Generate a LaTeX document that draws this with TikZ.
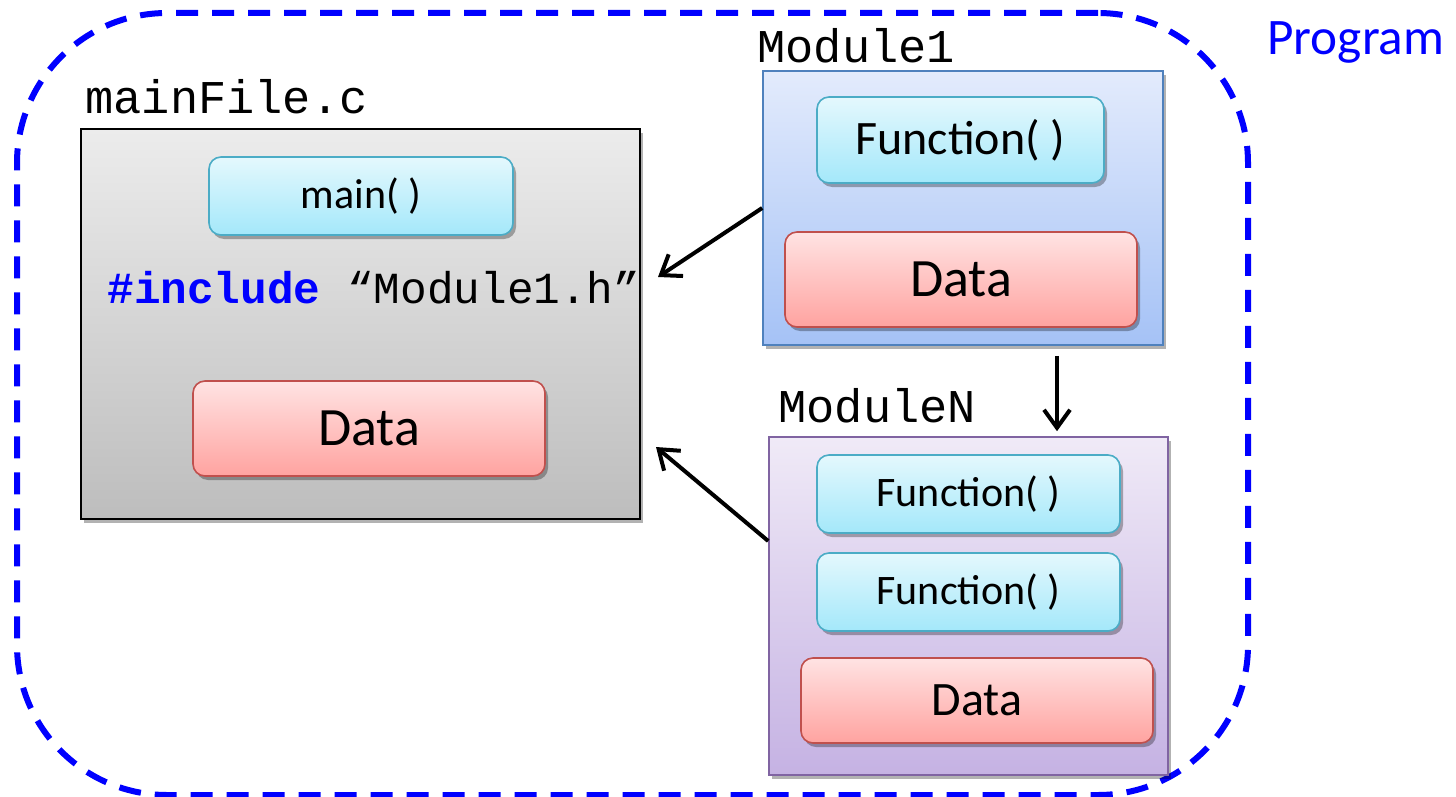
\documentclass[tikz,border=0pt]{standalone}
\usepackage{fontspec}
\setmainfont{Carlito}
\setmonofont{Liberation Mono}
\usepackage{tikz}
\usetikzlibrary{arrows.meta,positioning,shadows}
\definecolor{prog}{HTML}{0000FF}
\definecolor{ink}{HTML}{000000}
\definecolor{filetop}{HTML}{ECECEC}
\definecolor{filebot}{HTML}{BDBDBD}
\definecolor{fntop}{HTML}{E4F8FD}
\definecolor{fnbot}{HTML}{A4E8FA}
\definecolor{fnline}{HTML}{4BACC6}
\definecolor{datatop}{HTML}{FFE3E3}
\definecolor{databot}{HTML}{FFA3A0}
\definecolor{dataline}{HTML}{C0504D}
\definecolor{modtop}{HTML}{E3EBFC}
\definecolor{modbot}{HTML}{A5C2F6}
\definecolor{modline}{HTML}{4F81BD}
\definecolor{modNtop}{HTML}{F0EAF7}
\definecolor{modNbot}{HTML}{C5B2E3}
\definecolor{modNline}{HTML}{8064A2}
\tikzset{
  >={Straight Barb[length=9pt,width=13pt]},
  every node/.style={text=ink},
  shade/.style={drop shadow={shadow xshift=1.5pt,shadow yshift=-2pt,opacity=.3,fill=black}},
  filebox/.style={draw=ink,line width=1pt,top color=filetop,bottom color=filebot,shade},
  modbox/.style={draw=modline,line width=0.8pt,top color=modtop,bottom color=modbot,shade},
  modNbox/.style={modbox,draw=modNline,top color=modNtop,bottom color=modNbot},
  fnbox/.style={draw=fnline,line width=0.8pt,rounded corners=6pt,top color=fntop,bottom color=fnbot,shade},
  databox/.style={draw=dataline,line width=0.8pt,rounded corners=6pt,top color=datatop,bottom color=databot,shade},
  progframe/.style={draw=prog,line width=3pt,rounded corners=75pt,dash pattern=on 11pt off 7pt},
  filename/.style={anchor=base west,inner sep=0pt,font=\ttfamily\fontsize{23.5}{28}\selectfont},
  arrow/.style={->,line width=2pt,draw=ink},
}
\newcommand{\code}[1]{\texttt{#1}}

\begin{document}
\begin{tikzpicture}[x=0.5pt,y=-0.5pt]
\useasboundingbox (0,0) rectangle (1456,797);

% --- program frame
\node[progframe,minimum width=615.5pt,minimum height=391pt] (prog) at (632.5,404) {};
\node[anchor=base west,inner sep=0pt,text=prog,font=\fontsize{25.6}{30}\selectfont] (progname) at (1267,55) {Program};

% --- left: main file
\node[filebox,minimum width=279.5pt,minimum height=195pt] (main) at (360.5,324) {};
\node[filename] (mainname) at (85,113) {mainFile.c};
\node[fnbox,minimum width=152pt,minimum height=39pt,font=\fontsize{21}{24}\selectfont] (mainfn) at (361,196) {main( )};
\node[anchor=base west,inner sep=0pt,font=\ttfamily\fontsize{22.2}{26}\selectfont] (incl) at (107,303)
{{\color{prog}\bfseries\#include} “Module1.h”};
\node[databox,minimum width=176pt,minimum height=47.5pt,font=\fontsize{27}{32}\selectfont] (maindata) at (369,428.5) {Data};

% --- right: Module1
\node[modbox,minimum width=200pt,minimum height=137pt] (mod1) at (963,208) {};
\node[filename] (mod1name) at (757,63) {Module1};
\node[fnbox,minimum width=143.5pt,minimum height=43pt,font=\fontsize{24}{28}\selectfont] (mod1fn) at (960.5,140) {Function( )};
\node[databox,minimum width=176pt,minimum height=47.5pt,font=\fontsize{27}{32}\selectfont] (mod1data) at (961,279.5) {Data};

% --- right: ModuleN
\node[modNbox,minimum width=199.5pt,minimum height=169pt] (modN) at (968.5,606) {};
\node[filename] (modNname) at (778,422) {ModuleN};
\node[fnbox,minimum width=151.5pt,minimum height=39pt,font=\fontsize{21}{25}\selectfont] (modNfnA) at (968.5,494) {Function( )};
\node[fnbox,minimum width=151.5pt,minimum height=39pt,font=\fontsize{21}{25}\selectfont] (modNfnB) at (968.5,592) {Function( )};
\node[databox,minimum width=176pt,minimum height=42.5pt,font=\fontsize{24}{28}\selectfont] (modNdata) at (977,700.5) {Data};

% --- links
\coordinate (in1) at (658,277);
\coordinate (inN) at (656,447);
\draw[arrow] (mod1.west) -- (in1);
\draw[arrow] ([yshift=32.5pt]modN.west) -- (inN);
\draw[arrow] ([xshift=47pt,yshift=-5pt]mod1.south) -- ([xshift=44.25pt,yshift=2.5pt]modN.north);

\end{tikzpicture}
\end{document}
